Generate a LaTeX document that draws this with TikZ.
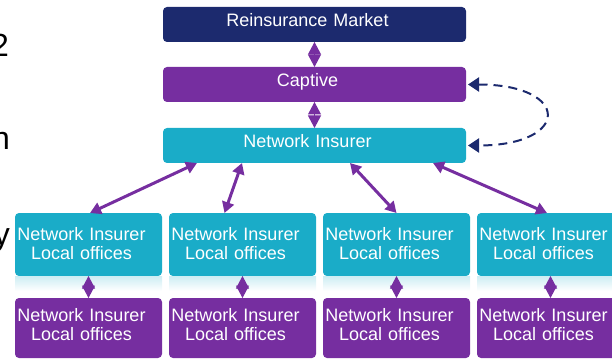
\documentclass[tikz,border=0pt]{standalone}
\usepackage{fontspec}
\setmainfont{Liberation Sans}
\usetikzlibrary{positioning, arrows.meta}
\definecolor{market}{RGB}{28,42,110}
\definecolor{captive}{RGB}{118,46,160}
\definecolor{insurer}{RGB}{26,172,200}
\tikzset{
    x=1pt, y=1pt,
    node distance=7pt,      % gap between boxes of a row
    box/.style={            % common look of all boxes
        rounded corners=4pt,
        text=white,
        inner sep=0pt,
        outer sep=0pt,
        font=\fontsize{18}{19}\selectfont,
        % lines sit a little left of the middle
        execute at begin node={\leftskip=0pt plus 1fil\rightskip=14pt plus 1fil\parfillskip=0pt}
    },
    band/.style={box, text width=303pt, minimum height=35pt, text height=13pt, text depth=9pt},
    office/.style={box, text width=147pt, minimum height=63pt, text height=13pt, text depth=22pt, fill=insurer},
    branch/.style={box, text width=147pt, minimum height=60pt, text height=13pt, text depth=27pt, fill=captive},
    link/.style={           % arrows between the insurer and its offices
        draw=captive,
        line width=3pt,
        {Triangle[length=11pt,width=12pt]}-{Triangle[length=11pt,width=12pt]}
    },
    joint/.style={          % small diamonds between stacked boxes
        draw=captive,
        line width=1pt,
        {Triangle[length=12.5pt,width=13pt]}-{Triangle[length=12.5pt,width=13pt]}
    },
    feedback/.style={       % dashed return path
        draw=market,
        line width=2pt,
        dash pattern=on 9pt off 6pt,
        {Triangle[length=11pt,width=14pt]}-{Triangle[length=11pt,width=14pt]}
    },
    stray/.style={font=\fontsize{32}{34}\selectfont, inner sep=0pt}
}

\begin{document}
\begin{tikzpicture}
    \useasboundingbox (0,0) rectangle (612,359);
    \clip (0,0) rectangle (612,359);

    % letters cut off at the left edge
    \node[stray, anchor=base east] (t1) at (9,302) {2};
    \node[stray, anchor=base east] (t2) at (10,209) {n};
    \node[stray, anchor=base east] (t3) at (10,114) {y};

    % top of the structure
    \node[band, fill=market] (re) at (314.5,334.5) {Reinsurance Market};
    \node[band, fill=captive, below=25pt of re] (cap) {Captive};
    \node[band, fill=insurer, below=26pt of cap] (ni) {Network Insurer};

    % local offices
    \node[office] (l1) at (88.5,114.5) {Network Insurer\\Local offices};
    \node[office, right=of l1] (l2) {Network Insurer\\Local offices};
    \node[office, right=of l2] (l3) {Network Insurer\\Local offices};
    \node[office, right=of l3] (l4) {Network Insurer\\Local offices};

    % faint reflections under the offices
    \shade[top color=insurer!22, bottom color=white] (l1.south west) rectangle ([yshift=-15pt]l1.south east);
    \shade[top color=insurer!22, bottom color=white] (l2.south west) rectangle ([yshift=-15pt]l2.south east);
    \shade[top color=insurer!22, bottom color=white] (l3.south west) rectangle ([yshift=-15pt]l3.south east);
    \shade[top color=insurer!22, bottom color=white] (l4.south west) rectangle ([yshift=-15pt]l4.south east);

    \node[branch, below=22pt of l1] (p1) {Network Insurer\\Local offices};
    \node[branch, below=22pt of l2] (p2) {Network Insurer\\Local offices};
    \node[branch, below=22pt of l3] (p3) {Network Insurer\\Local offices};
    \node[branch, below=22pt of l4] (p4) {Network Insurer\\Local offices};

    % connectors
    \draw[joint] (re) -- (cap);
    \draw[joint] (cap) -- (ni);
    \draw[feedback] ([xshift=2pt]cap.east) .. controls +(103,0) and +(103,0) .. ([xshift=2pt]ni.east);
    \draw[link] ([xshift=-117.5pt]ni.south) -- ([xshift=1.5pt]l1.north);
    \draw[link] ([xshift=-72.5pt]ni.south) -- ([xshift=-18pt]l2.north);
    \draw[link] ([xshift=35.5pt]ni.south) -- (l3.north);
    \draw[link] ([xshift=118.5pt]ni.south) -- ([xshift=-3.5pt]l4.north);
    \draw[joint] (l1) -- (p1);
    \draw[joint] (l2) -- (p2);
    \draw[joint] (l3) -- (p3);
    \draw[joint] (l4) -- (p4);
\end{tikzpicture}
\end{document}
